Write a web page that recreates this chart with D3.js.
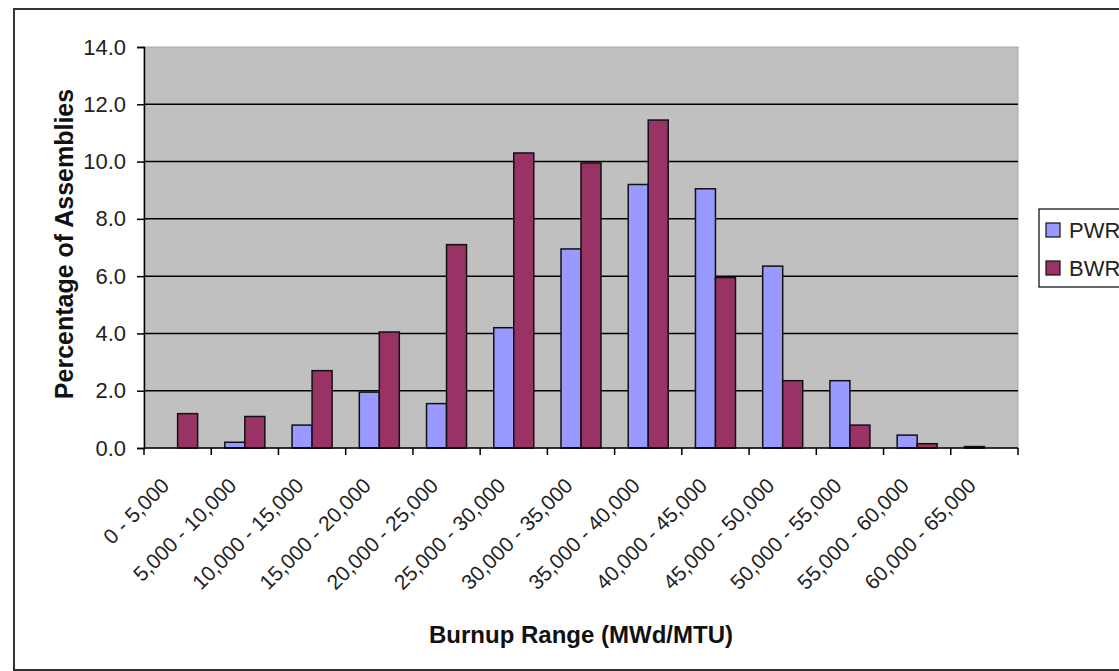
<!DOCTYPE html>
<html>
<head>
<meta charset="utf-8">
<style>
  body { margin: 0; background: #fff; }
  svg { display: block; font-family: "Liberation Sans", Arial, sans-serif; }
</style>
<script src="https://d3js.org/d3.v7.min.js"></script>
</head>
<body>
<svg width="1119" height="671" id="chart"></svg>
<script>
  // data
  var categories = ["0 - 5,000", "5,000 - 10,000", "10,000 - 15,000", "15,000 - 20,000",
    "20,000 - 25,000", "25,000 - 30,000", "30,000 - 35,000", "35,000 - 40,000",
    "40,000 - 45,000", "45,000 - 50,000", "50,000 - 55,000", "55,000 - 60,000", "60,000 - 65,000"];
  var seriesNames = ["PWR", "BWR"];
  var pwrValues = [0, 0.2, 0.8, 1.95, 1.55, 4.2, 6.95, 9.2, 9.05, 6.35, 2.35, 0.45, 0.05];
  var bwrValues = [1.2, 1.1, 2.7, 4.05, 7.1, 10.3, 9.95, 11.45, 5.95, 2.35, 0.8, 0.15, 0];
  var yTicks = [0, 2, 4, 6, 8, 10, 12, 14];

  var colors = { PWR: "#9999ff", BWR: "#993366" };
  // plot area edges (top is a reserved window name, so prefix these)
  var plotL = 144, plotR = 1018, plotT = 47, plotB = 448;
  var barW = 20;

  var svg = d3.select("#chart");

  // outer chart border
  svg.append("rect")
    .attr("x", 14).attr("y", 9)
    .attr("width", 1140).attr("height", 661)
    .attr("fill", "#fff")
    .attr("stroke", "#333")
    .attr("stroke-width", 2);

  var x = d3.scaleBand().domain(categories).range([plotL, plotR]).padding(0);
  var xs = d3.scaleBand().domain(seriesNames)
    .range([x.bandwidth() / 2 - barW, x.bandwidth() / 2 + barW]);
  var y = d3.scaleLinear().domain([0, 14]).range([plotB, plotT]);

  // plot background
  svg.append("rect")
    .attr("x", plotL).attr("y", plotT)
    .attr("width", plotR - plotL).attr("height", plotB - plotT)
    .attr("fill", "#c0c0c0")
    .attr("stroke", "#a8a8a8")
    .attr("stroke-width", 1);

  // gridlines
  svg.append("g").selectAll("line")
    .data(yTicks.filter(function(d) { return d > 0 && d < 14; }))
    .enter().append("line")
    .attr("x1", plotL).attr("x2", plotR)
    .attr("y1", function(d) { return y(d); })
    .attr("y2", function(d) { return y(d); })
    .attr("stroke", "#000")
    .attr("stroke-width", 1.5);

  // bars
  var rows = categories.map(function(c, i) {
    return { cat: c, values: [{ s: "PWR", v: pwrValues[i] }, { s: "BWR", v: bwrValues[i] }] };
  });
  var groups = svg.append("g").selectAll("g")
    .data(rows)
    .enter().append("g")
    .attr("transform", function(d) { return "translate(" + x(d.cat) + ",0)"; });
  groups.selectAll("rect")
    .data(function(d) { return d.values.filter(function(e) { return e.v > 0; }); })
    .enter().append("rect")
    .attr("x", function(d) { return xs(d.s); })
    .attr("width", xs.bandwidth())
    .attr("y", function(d) { return y(d.v); })
    .attr("height", function(d) { return plotB - y(d.v); })
    .attr("fill", function(d) { return colors[d.s]; })
    .attr("stroke", "#111")
    .attr("stroke-width", 1.5);

  // y axis
  var yAxis = svg.append("g")
    .attr("transform", "translate(" + plotL + ",0)")
    .call(d3.axisLeft(y).tickValues(yTicks).tickSize(7).tickPadding(11)
      .tickFormat(d3.format(".1f")));
  yAxis.select(".domain").attr("stroke", "#000").attr("stroke-width", 1.5);
  yAxis.selectAll(".tick line").attr("stroke", "#000").attr("stroke-width", 1.5);
  yAxis.selectAll(".tick text")
    .attr("font-size", 22).attr("fill", "#222")
    .attr("font-family", "Liberation Sans, Arial, sans-serif");

  // x axis
  var xAxisG = svg.append("g").attr("transform", "translate(0," + plotB + ")");
  xAxisG.append("line")
    .attr("x1", plotL).attr("x2", plotR)
    .attr("stroke", "#000").attr("stroke-width", 1.5);
  var boundaries = categories.map(function(c) { return x(c); }).concat([plotR]);
  xAxisG.selectAll("line.tk")
    .data(boundaries)
    .enter().append("line")
    .attr("class", "tk")
    .attr("x1", function(d) { return d; }).attr("x2", function(d) { return d; })
    .attr("y1", 0).attr("y2", 7)
    .attr("stroke", "#000").attr("stroke-width", 1.5);
  xAxisG.selectAll("text")
    .data(categories)
    .enter().append("text")
    .attr("transform", function(d) {
      return "translate(" + (x(d) + x.bandwidth() / 2 - 7) + ",39) rotate(-45)";
    })
    .attr("text-anchor", "end")
    .attr("font-size", 21)
    .attr("fill", "#222")
    .text(function(d) { return d; });

  // axis titles
  svg.append("text")
    .attr("transform", "translate(66,244) rotate(-90)")
    .attr("text-anchor", "middle")
    .attr("dominant-baseline", "middle")
    .attr("font-size", 25)
    .attr("font-weight", "bold")
    .attr("fill", "#111")
    .text("Percentage of Assemblies");
  svg.append("text")
    .attr("x", (plotL + plotR) / 2)
    .attr("y", 643)
    .attr("text-anchor", "middle")
    .attr("font-size", 24)
    .attr("font-weight", "bold")
    .attr("fill", "#111")
    .text("Burnup Range (MWd/MTU)");

  // legend
  var legend = svg.append("g").attr("transform", "translate(1039,209)");
  legend.append("rect")
    .attr("width", 120).attr("height", 78)
    .attr("fill", "#fff").attr("stroke", "#000").attr("stroke-width", 1.2);
  var item = legend.selectAll("g.item")
    .data(seriesNames)
    .enter().append("g")
    .attr("class", "item")
    .attr("transform", function(d, i) { return "translate(7," + (14 + i * 38) + ")"; });
  item.append("rect")
    .attr("width", 14).attr("height", 14)
    .attr("fill", function(d) { return colors[d]; })
    .attr("stroke", "#111").attr("stroke-width", 1.2);
  item.append("text")
    .attr("x", 23).attr("y", 15)
    .attr("font-size", 22)
    .attr("fill", "#222")
    .text(function(d) { return d; });
</script>
</body>
</html>
